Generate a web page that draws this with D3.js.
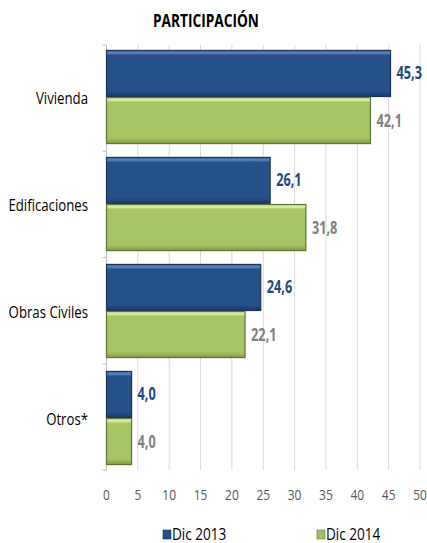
<!DOCTYPE html>
<html>
<head>
<meta charset="utf-8">
<script src="https://cdn.jsdelivr.net/npm/d3@7"></script>
<style>
  body { margin: 0; background: #fff; }
  svg text { font-family: "Open Sans", sans-serif; }
</style>
</head>
<body>
<svg id="chart" width="427" height="543"></svg>
<script>
// data
const categories = ["Vivienda", "Edificaciones", "Obras Civiles", "Otros*"];
const seriesNames = ["Dic 2013", "Dic 2014"];
const dic2013 = [45.3, 26.1, 24.6, 4.0];
const dic2014 = [42.1, 31.8, 22.1, 4.0];
const tickValues = [0, 5, 10, 15, 20, 25, 30, 35, 40, 45, 50];

const svg = d3.select("#chart");
const fmt = v => v.toFixed(1).replace(".", ",");
// the original font is a narrow one, so squeeze the text horizontally
const squeeze = (px, py, k) => "translate(" + px + "," + py + ") scale(" + k + ",1)";

// plot area
const plotLeft = 106.5, plotRight = 420, plotTop = 45, plotBottom = 470;

const x = d3.scaleLinear().domain([0, 50]).range([plotLeft, plotRight]);
const y = d3.scaleBand().domain(categories).range([plotTop, plotBottom])
    .paddingInner(0.12).paddingOuter(0.046);
const ySub = d3.scaleBand().domain(seriesNames).range([0, y.bandwidth()]);

// gradients for the bevelled bar look
const defs = svg.append("defs");
function makeGrad(id, stops) {
    const g = defs.append("linearGradient").attr("id", id)
        .attr("x1", 0).attr("y1", 0).attr("x2", 0).attr("y2", 1);
    stops.forEach(s => g.append("stop").attr("offset", s[0]).attr("stop-color", s[1]));
}
makeGrad("gBlue", [[0, "#3f6aa3"], [0.06, "#5b84bb"], [0.1, "#27518a"], [0.88, "#25508a"], [1, "#1a3a66"]]);
makeGrad("gGreen", [[0, "#c9e28f"], [0.06, "#d9eeaa"], [0.1, "#a6c565"], [0.88, "#a5c464"], [1, "#7f9a48"]]);

const series = [
    { name: seriesNames[0], values: dic2013, fill: "url(#gBlue)", stroke: "#1b3557", label: "#1f497d", legend: "#254f87" },
    { name: seriesNames[1], values: dic2014, fill: "url(#gGreen)", stroke: "#5f7534", label: "#808080", legend: "#a3c25f" }
];

// title
svg.append("text")
    .attr("transform", squeeze(206, 27, 0.76))
    .attr("text-anchor", "middle")
    .attr("font-size", 18).attr("font-weight", "bold")
    .attr("fill", "#000")
    .text("PARTICIPACIÓN");

// vertical gridlines
svg.append("g").selectAll("line")
    .data(tickValues.slice(1))
    .enter().append("line")
    .attr("x1", d => x(d)).attr("x2", d => x(d))
    .attr("y1", plotTop).attr("y2", plotBottom)
    .attr("stroke", "#d9d9d9").attr("stroke-width", 1);

// category axis line and small ticks at band boundaries
svg.append("line")
    .attr("x1", plotLeft).attr("x2", plotLeft)
    .attr("y1", plotTop).attr("y2", plotBottom)
    .attr("stroke", "#bfbfbf");
svg.append("g").selectAll("line")
    .data(d3.range(categories.length + 1))
    .enter().append("line")
    .attr("x1", plotLeft - 4).attr("x2", plotLeft)
    .attr("y1", i => plotTop + i * (plotBottom - plotTop) / categories.length)
    .attr("y2", i => plotTop + i * (plotBottom - plotTop) / categories.length)
    .attr("stroke", "#bfbfbf");

// category labels
svg.append("g").selectAll("text")
    .data(categories)
    .enter().append("text")
    .attr("transform", d => squeeze(88, y(d) + y.bandwidth() / 2 + 7, 0.8))
    .attr("text-anchor", "end")
    .attr("font-size", 16.5)
    .attr("fill", "#000")
    .text(d => d);

// bars
series.forEach(s => {
    const g = svg.append("g");
    g.selectAll("rect")
        .data(categories)
        .enter().append("rect")
        .attr("x", x(0))
        .attr("y", d => y(d) + ySub(s.name) + 0.5)
        .attr("width", (d, i) => x(s.values[i]) - x(0))
        .attr("height", ySub.bandwidth() - 1)
        .attr("fill", s.fill)
        .attr("stroke", s.stroke).attr("stroke-width", 1.2);
    g.selectAll("text")
        .data(categories)
        .enter().append("text")
        .attr("transform", (d, i) => squeeze(x(s.values[i]) + 6, y(d) + ySub(s.name) + ySub.bandwidth() / 2 + 6, 0.75))
        .attr("font-size", 17).attr("font-weight", "bold")
        .attr("fill", s.label)
        .text((d, i) => fmt(s.values[i]));
});

// value axis labels
svg.append("g").selectAll("text")
    .data(tickValues)
    .enter().append("text")
    .attr("transform", d => squeeze(x(d), 500, 0.8))
    .attr("text-anchor", "middle")
    .attr("font-size", 15)
    .attr("fill", "#595959")
    .text(d => d);

// legend
const legendX = [163, 317];
series.forEach((s, i) => {
    svg.append("rect")
        .attr("x", legendX[i]).attr("y", 530)
        .attr("width", 8).attr("height", 9)
        .attr("fill", s.legend).attr("stroke", s.stroke).attr("stroke-width", 0.6);
    svg.append("text")
        .attr("transform", squeeze(legendX[i] + 9, 540, 0.85))
        .attr("font-size", 16)
        .attr("fill", "#000")
        .text(s.name);
});
</script>
</body>
</html>
